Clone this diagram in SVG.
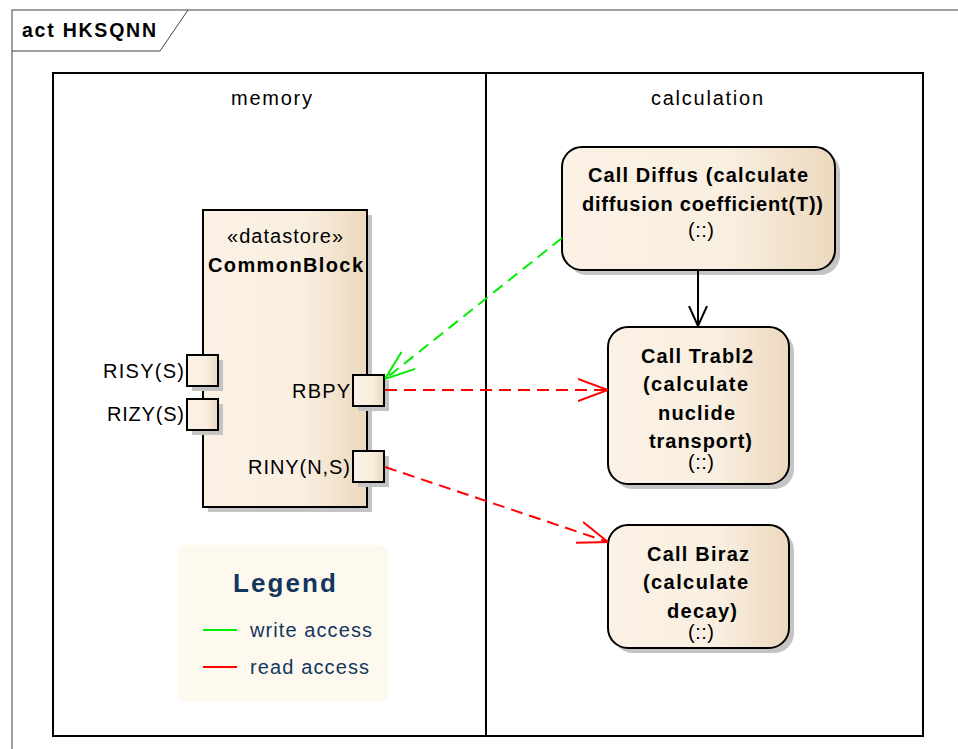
<svg xmlns="http://www.w3.org/2000/svg" width="958" height="749" viewBox="0 0 958 749">
<defs>
<linearGradient id="g" x1="0" y1="0" x2="1" y2="0">
<stop offset="0" stop-color="#FBF1E4"/>
<stop offset="0.6" stop-color="#F9EFE1"/>
<stop offset="1" stop-color="#ECD9BE"/>
</linearGradient>
<marker id="ab" viewBox="0 0 20 20" refX="20" refY="10" markerWidth="20" markerHeight="20" markerUnits="userSpaceOnUse" orient="auto">
<path d="M0,1 L20,10 L0,19" fill="none" stroke="#000" stroke-width="2"/>
</marker>
<marker id="ar" viewBox="0 0 30 24" refX="30" refY="12" markerWidth="30" markerHeight="24" markerUnits="userSpaceOnUse" orient="auto">
<path d="M0,1 L30,12 L0,23" fill="none" stroke="#FF0000" stroke-width="2"/>
</marker>
<marker id="ag" viewBox="0 0 30 24" refX="30" refY="12" markerWidth="30" markerHeight="24" markerUnits="userSpaceOnUse" orient="auto">
<path d="M0,1 L30,12 L0,23" fill="none" stroke="#00EE00" stroke-width="2"/>
</marker>
</defs>
<style>
text{font-family:"Liberation Sans",Arial,sans-serif;fill:#000}
.b{font-weight:bold;font-size:20px}
.n{font-size:20px}
.node{fill:url(#g);stroke:#000;stroke-width:2}
.sh{fill:#C4C4C4}
.port{fill:url(#g);stroke:#000;stroke-width:2}
.lg{fill:#14365E}
.dash{stroke-dasharray:12,7}
</style>
<rect width="958" height="749" fill="#fff"/>
<g id="frame">
<path d="M12,749 L12,10 L958,10" fill="none" stroke="#808080" stroke-width="1.5"/>
<path d="M12,51 L160,51 L188,10" fill="none" stroke="#404040" stroke-width="1"/>
<text x="22" y="37" textLength="134" style="font-weight:bold;font-size:19.5px">act HKSQNN</text>
</g>
<g id="partitions">
<rect x="53" y="73" width="870" height="663" fill="none" stroke="#000" stroke-width="2"/>
<line x1="486" y1="73" x2="486" y2="736" stroke="#000" stroke-width="2"/>
<text x="231" y="105" class="n" textLength="81">memory</text>
<text x="651" y="105" class="n" textLength="112">calculation</text>
</g>
<g id="legend">
<rect x="178" y="545" width="210" height="157" rx="7" fill="#FEF9EE"/>
<text x="233" y="592" textLength="103" class="lg" style="font-weight:bold;font-size:26px">Legend</text>
<line x1="203" y1="630" x2="237" y2="630" stroke="#00EE00" stroke-width="2"/>
<text x="250" y="637" textLength="122" class="lg" style="font-size:20px">write access</text>
<line x1="203" y1="667" x2="237" y2="667" stroke="#FF0000" stroke-width="2"/>
<text x="250" y="674" textLength="119" class="lg" style="font-size:20px">read access</text>
</g>
<g id="CommonBlock">
<rect class="sh" x="208" y="215" width="164" height="297"/>
<rect class="node" x="203" y="210" width="164" height="297"/>
<text x="227" y="243" class="n" textLength="116">«datastore»</text>
<text x="208" y="272" class="b" textLength="155">CommonBlock</text>
</g>
<g id="RISY">
<rect class="sh" x="192" y="360" width="31" height="31"/>
<rect class="port" x="187" y="355" width="31" height="31"/>
<text x="103" y="378" class="n" textLength="81">RISY(S)</text>
</g>
<g id="RIZY">
<rect class="sh" x="192" y="404" width="31" height="31"/>
<rect class="port" x="187" y="399" width="31" height="31"/>
<text x="107" y="421" class="n" textLength="77">RIZY(S)</text>
</g>
<g id="RBPY">
<rect class="sh" x="358" y="380" width="31" height="31"/>
<rect class="port" x="353" y="375" width="31" height="31"/>
<text x="292" y="398" class="n" textLength="58">RBPY</text>
</g>
<g id="RINY">
<rect class="sh" x="358" y="456" width="31" height="31"/>
<rect class="port" x="353" y="451" width="31" height="31"/>
<text x="248" y="474" class="n" textLength="102">RINY(N,S)</text>
</g>
<g id="Diffus">
<rect class="sh" x="567" y="152" width="273" height="123" rx="20"/>
<rect class="node" x="562" y="147" width="273" height="123" rx="20"/>
<text x="588" y="182" class="b" textLength="220">Call Diffus (calculate</text>
<text x="582" y="211" class="b" textLength="241">diffusion coefficient(T))</text>
<text x="688" y="237" class="n" textLength="26">(::)</text>
</g>
<g id="Trabl2">
<rect class="sh" x="613" y="332" width="181" height="157" rx="20"/>
<rect class="node" x="608" y="327" width="181" height="157" rx="20"/>
<text x="641" y="363" class="b" textLength="112">Call Trabl2</text>
<text x="643" y="391" class="b" textLength="105">(calculate</text>
<text x="658" y="420" class="b" textLength="77">nuclide</text>
<text x="649" y="448" class="b" textLength="103">transport)</text>
<text x="688" y="469" class="n" textLength="26">(::)</text>
</g>
<g id="Biraz">
<rect class="sh" x="613" y="530" width="181" height="123" rx="20"/>
<rect class="node" x="608" y="525" width="181" height="123" rx="20"/>
<text x="647" y="561" class="b" textLength="102">Call Biraz</text>
<text x="643" y="589" class="b" textLength="105">(calculate</text>
<text x="667" y="618" class="b" textLength="70">decay)</text>
<text x="688" y="639" class="n" textLength="26">(::)</text>
</g>
<g id="connectors" fill="none" stroke-width="2">
<line x1="698" y1="270" x2="698" y2="326" stroke="#000" marker-end="url(#ab)"/>
<line class="dash" x1="562" y1="238" x2="385" y2="379" stroke="#00EE00" marker-end="url(#ag)"/>
<line class="dash" x1="385" y1="390" x2="608" y2="390" stroke="#FF0000" marker-end="url(#ar)"/>
<line class="dash" x1="385" y1="467" x2="608" y2="542" stroke="#FF0000" marker-end="url(#ar)"/>
</g>
</svg>
